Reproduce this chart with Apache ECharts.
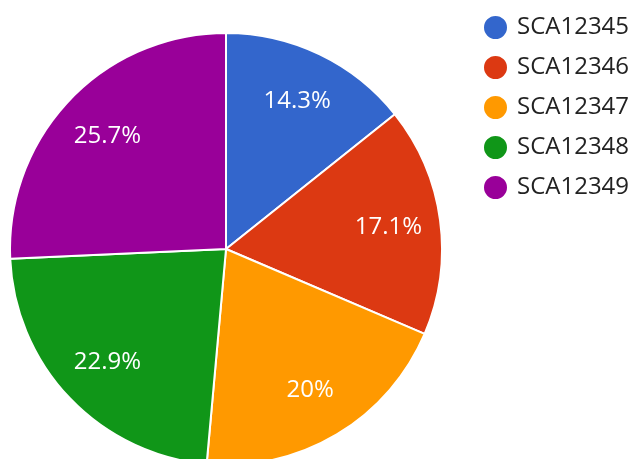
<!DOCTYPE html>
<html>
<head>
<meta charset="utf-8">
<script src="https://cdn.jsdelivr.net/npm/echarts@6/dist/echarts.min.js"></script>
<style>
  html, body { margin: 0; padding: 0; background: #fff; }
  #main { width: 633px; height: 459px; }
</style>
</head>
<body>
<div id="main"></div>
<script>
var categories = ['SCA12345', 'SCA12346', 'SCA12347', 'SCA12348', 'SCA12349'];
var values = [5, 6, 7, 8, 9];
var colors = ['#3366cc', '#dc3912', '#ff9900', '#109618', '#990099'];

var total = values.reduce(function (a, b) { return a + b; }, 0);
var pieData = categories.map(function (name, i) {
    return { name: name, value: values[i], itemStyle: { color: colors[i] } };
});

var chart = echarts.init(document.getElementById('main'));
chart.setOption({
    animation: false,
    textStyle: { fontFamily: 'Open Sans' },
    legend: {
        orient: 'vertical',
        left: 482,
        top: 14,
        padding: 0,
        icon: 'circle',
        itemWidth: 25,
        itemHeight: 25,
        itemGap: 13,
        textStyle: { fontSize: 24, lineHeight: 25, color: '#222', fontFamily: 'Open Sans', padding: [0, 0, 0, 4] },
        data: categories
    },
    series: [{
        type: 'pie',
        center: [226, 249],
        radius: [0, 216],
        startAngle: 90,
        clockwise: true,
        data: pieData,
        itemStyle: { borderColor: '#fff', borderWidth: 2 },
        label: { show: false },
        labelLine: { show: false },
        emphasis: { disabled: true }
    }, {
        // label layer only, so the percentages sit further out than mid radius
        type: 'pie',
        center: [226, 249],
        radius: [106, 216],
        startAngle: 90,
        clockwise: true,
        silent: true,
        legendHoverLink: false,
        data: categories.map(function (name, i) {
            return { name: name, value: values[i], itemStyle: { color: 'transparent' } };
        }),
        itemStyle: { borderWidth: 0 },
        label: {
            show: true,
            position: 'inside',
            color: '#fff',
            fontSize: 24,
            fontFamily: 'Open Sans',
            formatter: function (p) {
                var pct = Math.round(p.value / total * 1000) / 10;
                return pct + '%';
            }
        },
        labelLine: { show: false },
        emphasis: { disabled: true }
    }]
});
</script>
</body>
</html>
